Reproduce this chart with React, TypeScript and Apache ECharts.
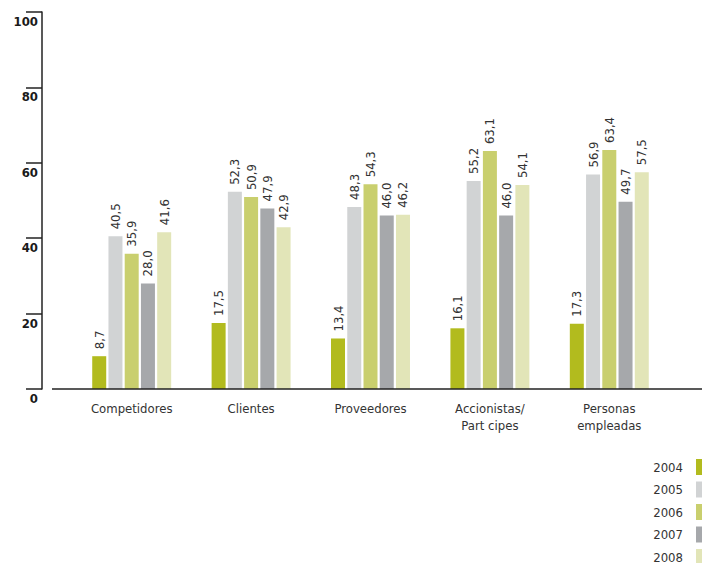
import React, { useEffect, useRef } from "react";
import * as echarts from "echarts";

const categories = ["Competidores", "Clientes", "Proveedores", "Accionistas/\nPart cipes", "Personas\nempleadas"];
const years = ["2004", "2005", "2006", "2007", "2008"];
const v2004 = [8.7, 17.5, 13.4, 16.1, 17.3];
const v2005 = [40.5, 52.3, 48.3, 55.2, 56.9];
const v2006 = [35.9, 50.9, 54.3, 63.1, 63.4];
const v2007 = [28.0, 47.9, 46.0, 46.0, 49.7];
const v2008 = [41.6, 42.9, 46.2, 54.1, 57.5];
const yTicks = [0, 20, 40, 60, 80, 100];

const seriesValues = [v2004, v2005, v2006, v2007, v2008];
const colors = ["#b2bb1e", "#d1d3d4", "#c9cf6e", "#a6a8ab", "#e2e5b8"];

export default function App() {
  const ref = useRef<HTMLDivElement>(null);
  useEffect(() => {
    if (!ref.current) return;
    const chart = echarts.init(ref.current, undefined, { renderer: "svg" });
    const condensed = "'DejaVu Sans Condensed', 'Liberation Sans Narrow', sans-serif";
    chart.setOption({
      animation: false,
      backgroundColor: "#ffffff",
      grid: { left: 72, right: 33, top: 12, bottom: 174, containLabel: false },
      legend: {
        orient: "vertical",
        right: -1,
        top: 459,
        height: 110,
        padding: 0,
        align: "right",
        itemWidth: 7,
        itemHeight: 16,
        itemGap: 6.5,
        icon: "rect",
        textStyle: { fontFamily: condensed, fontSize: 13, color: "#333333", padding: [0, 8, 0, 0] },
        data: years,
      },
      xAxis: {
        type: "category",
        data: categories,
        axisLine: { show: false },
        axisTick: { show: false },
        axisLabel: {
          interval: 0,
          margin: 11,
          fontFamily: condensed,
          fontSize: 13,
          lineHeight: 17,
          color: "#333333",
        },
      },
      yAxis: {
        type: "value",
        min: 0,
        max: 100,
        interval: 20,
        offset: 30,
        splitLine: { show: false },
        axisLine: { show: true, lineStyle: { color: "#222222", width: 1.5 } },
        axisTick: { show: true, length: 16, lineStyle: { color: "#222222", width: 1.5 } },
        axisLabel: {
          fontFamily: "'DejaVu Sans Condensed', sans-serif",
          fontWeight: "bold",
          fontSize: 13,
          color: "#1a1a1a",
          verticalAlign: "top",
          align: "right",
          margin: 4,
          padding: [3, 0, 0, 0],
          formatter: (v: number) => (yTicks.includes(v) ? String(v) : ""),
        },
      },
      graphic: [
        {
          type: "line",
          shape: { x1: 52, y1: 389, x2: 702, y2: 389 },
          style: { stroke: "#222222", lineWidth: 1.5 },
          z: 10,
        },
      ],
      series: years.map((y, i) => ({
        name: y,
        type: "bar",
        data: seriesValues[i],
        barWidth: 14,
        barGap: "16%",
        itemStyle: { color: colors[i] },
        label: {
          show: true,
          position: "top",
          rotate: 90,
          align: "left",
          verticalAlign: "middle",
          distance: 7,
          fontFamily: condensed,
          fontSize: 13,
          color: "#333333",
          formatter: (p: any) => p.value.toFixed(1).replace(".", ","),
        },
      })),
    });
    return () => chart.dispose();
  }, []);
  return <div ref={ref} style={{ width: 702, height: 563, position: "absolute", left: 0, top: 0 }} />;
}
